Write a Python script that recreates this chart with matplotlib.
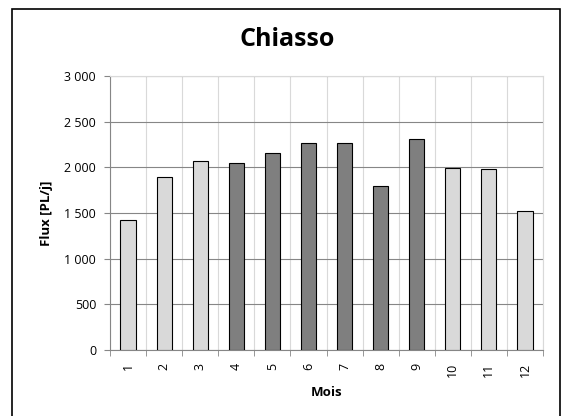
import matplotlib.pyplot as plt
from matplotlib.patches import Rectangle
from matplotlib.ticker import FuncFormatter, MultipleLocator
import numpy as np

# monthly heavy-vehicle flow, Chiasso
months = ['1', '2', '3', '4', '5', '6', '7', '8', '9', '10', '11', '12']
flux = [1427, 1889, 2067, 2049, 2158, 2265, 2265, 1798, 2305, 1990, 1983, 1517]
# summer months (4-9) drawn dark
dark_months = ['4', '5', '6', '7', '8', '9']

plt.rcParams['font.family'] = ['Open Sans', 'DejaVu Sans']

W, H = 562, 416
fig = plt.figure(figsize=(W / 100, H / 100), dpi=100)
ax = fig.add_axes([110 / W, 1 - 350 / H, 433 / W, 274 / H])

colors = ['#7f7f7f' if m in dark_months else '#d9d9d9' for m in months]
x = np.arange(len(months))
ax.bar(x, flux, width=0.42, color=colors, edgecolor='black', linewidth=0.8, zorder=3)

ax.set_xlim(-0.5, len(months) - 0.5)
ax.set_ylim(0, 3000)
ax.yaxis.set_major_locator(MultipleLocator(500))
ax.yaxis.set_major_formatter(FuncFormatter(lambda v, p: f"{int(v):,}".replace(',', ' ')))

ax.set_xticks(x)
ax.set_xticklabels(months, rotation=90, fontsize=9)
ax.set_xticks(np.arange(-0.5, len(months)), minor=True)
ax.tick_params(axis='x', which='major', length=0, pad=9)
ax.tick_params(axis='x', which='minor', length=4, color='#868686')
ax.tick_params(axis='y', labelsize=9, length=4, pad=6, color='#868686')

ax.grid(axis='y', color='#868686', linewidth=0.8, zorder=0)
ax.grid(axis='x', which='minor', color='#d9d9d9', linewidth=0.8, zorder=0)
for s in ['top', 'right']:
    ax.spines[s].set_color('#d9d9d9')
for s in ['left', 'bottom']:
    ax.spines[s].set_color('#868686')

ax.set_ylabel('Flux [PL/j]', fontsize=9.5, fontweight='bold', labelpad=8)
ax.set_xlabel('Mois', fontsize=9.5, fontweight='bold', labelpad=7)
fig.text(287 / W, 1 - 39 / H, 'Chiasso', ha='center', va='center', fontsize=18, fontweight='bold')

# outer chart frame (bottom edge runs past the image)
fig.patches.append(Rectangle((12 / W, -4 / H), 548 / W, 411 / H, transform=fig.transFigure,
                             fill=False, edgecolor='black', linewidth=1.2))

fig.savefig('out.png', dpi=100)
